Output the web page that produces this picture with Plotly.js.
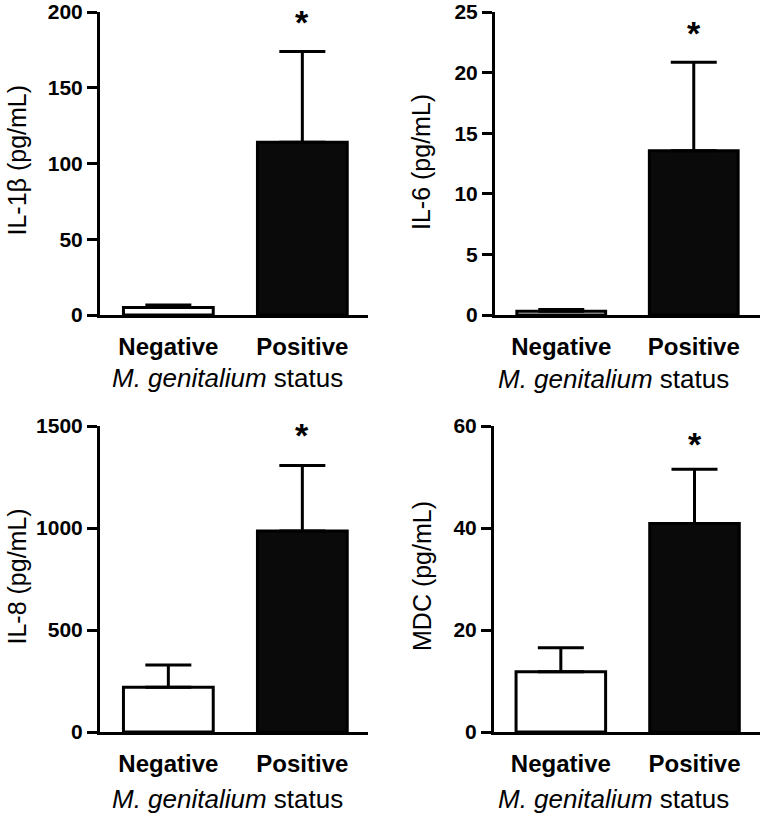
<!DOCTYPE html>
<html>
<head>
<meta charset="utf-8">
<script src="https://cdn.plot.ly/plotly-3.0.1.min.js"></script>
<style>html,body{margin:0;padding:0;background:#fff}#chart{width:764px;height:818px}</style>
</head>
<body>
<div id="chart"></div>
<script>
// ---- data ----
var categories = ['Negative', 'Positive'];
var il1bMean = [5, 114];
var il1bErr = [1.6, 60];
var il6Mean = [0.3, 13.55];
var il6Err = [0.15, 7.3];
var il8Mean = [219, 985];
var il8Err = [110, 321];
var mdcMean = [11.8, 40.9];
var mdcErr = [4.7, 10.6];
var il1bTicks = [0, 50, 100, 150, 200];
var il6Ticks = [0, 5, 10, 15, 20, 25];
var il8Ticks = [0, 500, 1000, 1500];
var mdcTicks = [0, 20, 40, 60];
var yTitles = ['IL-1β (pg/mL)', 'IL-6 (pg/mL)', 'IL-8 (pg/mL)', 'MDC (pg/mL)'];
var xTitle = '<i>M. genitalium</i> status';
var sigLabel = '*';
var sigY = [195, 23.4, 1464, 56.9];

// ---- layout geometry (pixels) ----
var W = 764, H = 818;
var panels = [
  {mean: il1bMean, err: il1bErr, ticks: il1bTicks, x0: 100, x1: 368, yt: 12, yb: 315, xr: [-0.51, 1.49]},
  {mean: il6Mean, err: il6Err, ticks: il6Ticks, x0: 495, x1: 760, yt: 12, yb: 315, xr: [-0.5, 1.5]},
  {mean: il8Mean, err: il8Err, ticks: il8Ticks, x0: 100, x1: 368, yt: 426, yb: 732, xr: [-0.51, 1.49]},
  {mean: mdcMean, err: mdcErr, ticks: mdcTicks, x0: 494, x1: 760, yt: 426, yb: 732, xr: [-0.5, 1.49]}
];
var yTitlePos = [[16.5, 160], [421, 162], [16.5, 577], [422, 576]];
var xTitlePos = [[227, 378], [613, 379], [227, 799], [613, 799]];

var tickFont = {family: 'Liberation Sans, Arial, sans-serif', size: 21, color: '#000', weight: 'bold'};
var catFont = {family: 'Liberation Sans, Arial, sans-serif', size: 24, color: '#000', weight: 'bold'};
var titleFont = {family: 'Liberation Sans, Arial, sans-serif', size: 25, color: '#000'};
var xTitleFont = {family: 'Liberation Sans, Arial, sans-serif', size: 26, color: '#000'};

var traces = [];
var layout = {
  width: W, height: H,
  margin: {l: 0, r: 0, t: 0, b: 0},
  paper_bgcolor: '#fff', plot_bgcolor: 'rgba(0,0,0,0)',
  showlegend: false,
  annotations: []
};

panels.forEach(function (p, i) {
  var n = i + 1;
  var xa = 'xaxis' + (n === 1 ? '' : n), ya = 'yaxis' + (n === 1 ? '' : n);
  var xr = 'x' + (n === 1 ? '' : n), yr = 'y' + (n === 1 ? '' : n);
  traces.push({
    type: 'bar', x: categories, y: p.mean, xaxis: xr, yaxis: yr,
    width: 0.67,
    marker: {color: ['#ffffff', '#0a0a0a'], line: {color: '#000', width: 3}},
    error_y: {type: 'data', array: p.err, arrayminus: [0, 0], symmetric: false,
              color: '#000', thickness: 3, width: 23, visible: true},
    hoverinfo: 'none'
  });
  layout[xa] = {
    domain: [p.x0 / W, p.x1 / W], anchor: yr, range: p.xr,
    type: 'category', tickvals: categories, ticktext: categories,
    showline: true, linewidth: 3, linecolor: '#000', ticks: '',
    showgrid: false, zeroline: false, tickfont: catFont, ticklabelstandoff: 8,
    fixedrange: true
  };
  var top = p.ticks[p.ticks.length - 1];
  layout[ya] = {
    domain: [1 - p.yb / H, 1 - p.yt / H], anchor: xr, range: [0, top],
    tickvals: p.ticks, ticktext: p.ticks.map(String),
    showline: true, linewidth: 3, linecolor: '#000',
    ticks: 'outside', ticklen: 10, tickwidth: 3, tickcolor: '#000',
    showgrid: false, zeroline: false, tickfont: tickFont, ticklabelstandoff: 0,
    fixedrange: true
  };
  layout.annotations.push({
    xref: 'paper', yref: 'paper', x: yTitlePos[i][0] / W, y: 1 - yTitlePos[i][1] / H,
    text: yTitles[i], textangle: -90, showarrow: false,
    xanchor: 'center', yanchor: 'middle', font: titleFont
  });
  layout.annotations.push({
    xref: 'paper', yref: 'paper', x: xTitlePos[i][0] / W, y: 1 - xTitlePos[i][1] / H,
    text: xTitle, showarrow: false, xanchor: 'center', yanchor: 'middle', font: xTitleFont
  });
  layout.annotations.push({
    xref: xr, yref: yr, x: categories[1], y: sigY[i],
    text: sigLabel, showarrow: false, xanchor: 'center', yanchor: 'middle', yshift: -2,
    font: {family: 'Liberation Sans, Arial, sans-serif', size: 34, color: '#000', weight: 'bold'}
  });
});

Plotly.newPlot('chart', traces, layout, {displayModeBar: false, staticPlot: true});
</script>
</body>
</html>
